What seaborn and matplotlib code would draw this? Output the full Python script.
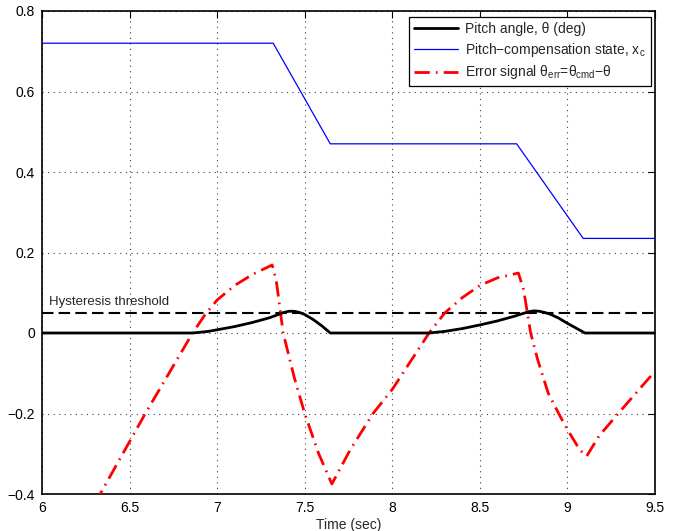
import numpy as np
import pandas as pd
import matplotlib
matplotlib.use("Agg")
import matplotlib.pyplot as plt
import seaborn as sns
from matplotlib.ticker import FixedLocator, FixedFormatter

# ---- data ----
pitch_t = [6.0, 6.86, 6.95, 7.0, 7.1, 7.2, 7.3, 7.35, 7.38, 7.41, 7.44, 7.47, 7.50, 7.55, 7.60, 7.646,
           8.21, 8.30, 8.40, 8.50, 8.60, 8.70, 8.75, 8.78, 8.81, 8.84, 8.87, 8.90, 8.95, 9.00, 9.05, 9.10, 9.5]
pitch_y = [0.0, 0.0, 0.004, 0.008, 0.016, 0.026, 0.038, 0.046, 0.051, 0.054, 0.054, 0.051, 0.046, 0.033, 0.017, 0.0,
           0.0, 0.004, 0.011, 0.020, 0.030, 0.042, 0.049, 0.053, 0.055, 0.054, 0.051, 0.047, 0.037, 0.024, 0.012, 0.0, 0.0]

comp_t = [6.0, 7.32, 7.646, 8.71, 9.09, 9.5]
comp_y = [0.72, 0.72, 0.47, 0.47, 0.235, 0.235]

err_t = [6.30, 6.59, 6.86, 6.93, 7.0, 7.1, 7.2, 7.314, 7.337, 7.377, 7.44, 7.5, 7.58, 7.655,
         7.76, 7.89, 8.0, 8.21, 8.30, 8.40, 8.50, 8.60, 8.72, 8.75, 8.79, 8.83, 8.89, 8.95, 9.0, 9.07, 9.11,
         9.18, 9.29, 9.41, 9.5]
err_y = [-0.425, -0.2, 0.0, 0.045, 0.082, 0.118, 0.145, 0.169, 0.132, 0.0, -0.11, -0.2, -0.30, -0.375,
         -0.29, -0.2, -0.14, 0.0, 0.05, 0.088, 0.118, 0.137, 0.149, 0.107, 0.0, -0.066, -0.149, -0.2, -0.24, -0.29, -0.306,
         -0.256, -0.2, -0.14, -0.095]

threshold = 0.05
xticks = [6, 6.5, 7, 7.5, 8, 8.5, 9, 9.5]
xticklabels = ["6", "6.5", "7", "7.5", "8", "8.5", "9", "9.5"]
yticks = [-0.4, -0.2, 0, 0.2, 0.4, 0.6, 0.8]
yticklabels = ["\u22120.4", "\u22120.2", "0", "0.2", "0.4", "0.6", "0.8"]

labels = ["Pitch angle, \u03b8 (deg)",
          "Pitch\u2212compensation state, x$_{\\mathrm{c}}$",
          "Error signal \u03b8$_{\\mathrm{err}}$=\u03b8$_{\\mathrm{cmd}}$\u2212\u03b8"]

# ---- style ----
sns.set_style("white")
plt.rcParams["font.family"] = ["Liberation Sans", "DejaVu Sans"]
plt.rcParams["mathtext.fontset"] = "custom"
plt.rcParams["mathtext.rm"] = "Liberation Sans"
plt.rcParams["mathtext.it"] = "Liberation Sans:italic"
plt.rcParams["font.size"] = 10

fig = plt.figure(figsize=(6.78, 5.31), dpi=100)
ax = fig.add_axes([42 / 678, 37 / 531, 613 / 678, 483 / 531])

df_p = pd.DataFrame({"t": pitch_t, "v": pitch_y})
df_c = pd.DataFrame({"t": comp_t, "v": comp_y})
df_e = pd.DataFrame({"t": err_t, "v": err_y})

sns.lineplot(data=df_p, x="t", y="v", ax=ax, color="black", linewidth=2.0,
             label=labels[0], sort=False, estimator=None, zorder=4)
sns.lineplot(data=df_c, x="t", y="v", ax=ax, color=(0, 0, 1), linewidth=0.9,
             label=labels[1], sort=False, estimator=None, zorder=3)
sns.lineplot(data=df_e, x="t", y="v", ax=ax, color=(1, 0, 0), linewidth=2.0,
             label=labels[2], sort=False, estimator=None, zorder=3)
ax.lines[-1].set_linestyle((0, (5.5, 2.2, 0.6, 2.2)))

ax.axhline(threshold, color="black", linewidth=1.5, linestyle=(0, (5.5, 2.5)), zorder=2)
ax.text(6.04, threshold + 0.012, "Hysteresis threshold", fontsize=9.5, ha="left", va="bottom")

ax.set_xlim(6, 9.5)
ax.set_ylim(-0.4, 0.8)
ax.xaxis.set_major_locator(FixedLocator(xticks))
ax.xaxis.set_major_formatter(FixedFormatter(xticklabels))
ax.yaxis.set_major_locator(FixedLocator(yticks))
ax.yaxis.set_major_formatter(FixedFormatter(yticklabels))
ax.tick_params(direction="in", length=5, width=0.8, top=True, right=True,
               labelsize=10, colors="black", pad=5)
ax.grid(True, linestyle=(0, (1, 4)), color="0.25", linewidth=0.8)
ax.set_axisbelow(True)
for s in ax.spines.values():
    s.set_color("black")
    s.set_linewidth(1.2)

ax.set_xlabel("Time (sec)", fontsize=10, labelpad=2)
ax.set_ylabel("")

leg = ax.legend(loc="upper right", bbox_to_anchor=(0.993, 0.988), borderaxespad=0,
                frameon=True, fancybox=False, framealpha=1, edgecolor="black",
                fontsize=10, handlelength=3.2, handletextpad=0.5, labelspacing=0.35,
                borderpad=0.35)
leg.get_frame().set_linewidth(0.9)

fig.savefig("out.png", dpi=100)
